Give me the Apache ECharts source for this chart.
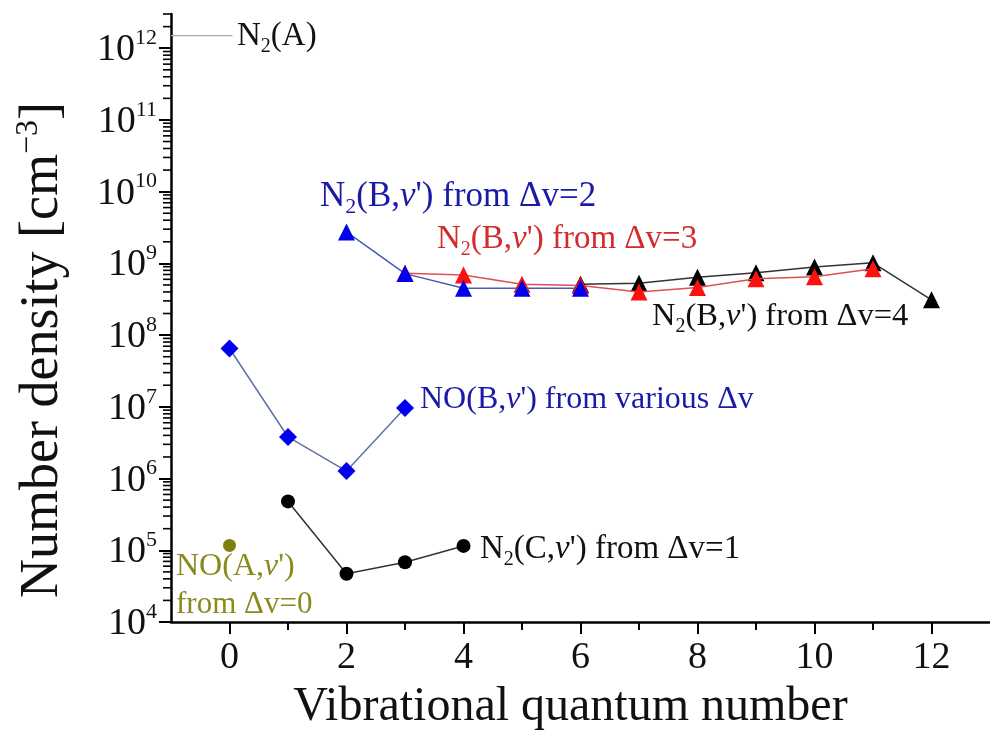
<!DOCTYPE html>
<html>
<head>
<meta charset="utf-8">
<script src="https://cdn.jsdelivr.net/npm/echarts@6/dist/echarts.min.js"></script>
<style>html,body{margin:0;padding:0;background:#fff}#c{width:990px;height:746px}</style>
</head>
<body>
<div id="c"></div>
<script>
// ---- data ----
const vN2B2 = [2, 3, 4, 5, 6];
const nN2B2 = [2.75e9, 7.2e8, 4.5e8, 4.5e8, 4.5e8];
const vN2B3 = [3, 4, 5, 6, 7, 8, 9, 10, 11];
const nN2B3 = [7.3e8, 6.9e8, 5.1e8, 4.9e8, 4.0e8, 4.6e8, 6.1e8, 6.5e8, 8.4e8];
const vN2B4 = [6, 7, 8, 9, 10, 11, 12];
const nN2B4 = [5.1e8, 5.3e8, 6.4e8, 7.4e8, 8.9e8, 1.02e9, 3.1e8];
const vNOB = [0, 1, 2, 3];
const nNOB = [6.5e7, 3.8e6, 1.27e6, 9.6e6];
const vN2C = [1, 2, 3, 4];
const nN2C = [4.8e5, 4.7e4, 6.8e4, 1.15e5];
const vNOA = [0];
const nNOA = [1.17e5];
const vN2A = [-1, 0.05];
const nN2A = [1.5e12, 1.5e12];
const xMajorTicks = [0, 2, 4, 6, 8, 10, 12];
const xMinorTicks = [1, 3, 5, 7, 9, 11];
const yDecades = [1e4, 1e5, 1e6, 1e7, 1e8, 1e9, 1e10, 1e11, 1e12];
const yMinorMantissas = [2, 3, 4, 5, 6, 7, 8, 9];

const X_MIN = -1, X_MAX = 13, Y_MIN = 1e4, Y_MAX = 3e12;
const yMinor = [];
yDecades.forEach(d => yMinorMantissas.forEach(m => { if (m * d <= Y_MAX) yMinor.push(m * d); }));

const pairs = (xs, ys) => xs.map((x, i) => [x, ys[i]]);
const SERIF = '"Liberation Serif", "Times New Roman", serif';

const chart = echarts.init(document.getElementById('c'), null, {renderer: 'canvas'});

const supLabel = function (v) {
  const e = Math.round(Math.log10(v));
  if (Math.abs(v - Math.pow(10, e)) / v > 1e-6) return '';
  return '{b|10}{p|' + e + '}';
};

function richFor(color, size) {
  return {
    n: {fontFamily: SERIF, fontSize: size, color: color, lineHeight: size + 8},
    i: {fontFamily: SERIF, fontSize: size, color: color, fontStyle: 'italic', lineHeight: size + 8},
    s: {fontFamily: SERIF, fontSize: Math.round(size * 0.62), color: color, lineHeight: Math.round(size * 0.62), verticalAlign: 'bottom'}
  };
}
function annot(x, y, text, color, size) {
  return {type: 'text', left: x, top: y, z: 100,
    style: {text: text, rich: richFor(color, size), fill: color, font: size + 'px ' + SERIF}};
}

// minor axis ticks, positioned through the axes' own scales
function minorTickSeries(points, size, offset) {
  return {
    type: 'scatter', silent: true, clip: false, z: 10, symbol: 'rect',
    symbolSize: size, symbolOffset: offset, data: points,
    itemStyle: {color: '#000', opacity: 1}
  };
}

const blueT = '#1a1aa8', redT = '#d42a2a', blackT = '#111', oliveT = '#8a8a1e';

const option = {
  backgroundColor: '#fff',
  animation: false,
  grid: {left: 171, right: 0, top: 14, bottom: 124, containLabel: false},
  xAxis: {
    type: 'value', min: X_MIN, max: X_MAX,
    name: 'Vibrational quantum number', nameLocation: 'middle', nameGap: 61,
    nameTextStyle: {fontFamily: SERIF, fontSize: 48, color: '#111', padding: [0, 20, 0, 0]},
    axisLine: {show: true, onZero: false, lineStyle: {color: '#000', width: 2.5}},
    axisTick: {show: true, customValues: xMajorTicks, length: 12, inside: false, lineStyle: {color: '#000', width: 2}},
    axisLabel: {customValues: xMajorTicks, fontFamily: SERIF, fontSize: 38, color: '#111', margin: 17},
    splitLine: {show: false}
  },
  yAxis: {
    type: 'log', logBase: 10, min: Y_MIN, max: Y_MAX,
    name: '{a|Number density [cm}{s|−3}{a|]}', nameLocation: 'middle', nameGap: 98, nameRotate: 90,
    nameTextStyle: {padding: [0, 64, 0, 0], rich: {
      a: {fontFamily: SERIF, fontSize: 54, color: '#111', lineHeight: 60},
      s: {fontFamily: SERIF, fontSize: 32, color: '#111', lineHeight: 32, verticalAlign: 'top'}
    }},
    axisLine: {show: true, onZero: false, lineStyle: {color: '#000', width: 2.5}},
    axisTick: {show: true, customValues: yDecades, length: 12, lineStyle: {color: '#000', width: 2}},
    axisLabel: {customValues: yDecades, formatter: supLabel, margin: 14, rich: {
      b: {fontFamily: SERIF, fontSize: 38, color: '#111', lineHeight: 42, verticalAlign: 'bottom'},
      p: {fontFamily: SERIF, fontSize: 22, color: '#111', lineHeight: 22, verticalAlign: 'top'}
    }},
    splitLine: {show: false}
  },
  series: [
    {type: 'line', name: 'N2(A)', data: pairs(vN2A, nN2A), showSymbol: false, symbol: 'none',
     lineStyle: {color: '#aaa', width: 1.2}},
    {type: 'line', name: 'N2(B) dv=4', data: pairs(vN2B4, nN2B4), symbol: 'triangle', symbolSize: 17,
     itemStyle: {color: '#000'}, lineStyle: {color: '#333', width: 1.5}, z: 3},
    {type: 'line', name: 'N2(B) dv=3', data: pairs(vN2B3, nN2B3), symbol: 'triangle', symbolSize: 17,
     itemStyle: {color: '#ff1010'}, lineStyle: {color: '#e05050', width: 1.5}, z: 4},
    {type: 'line', name: 'N2(B) dv=2', data: pairs(vN2B2, nN2B2), symbol: 'triangle', symbolSize: 17,
     itemStyle: {color: '#0000ee'}, lineStyle: {color: '#4a5ab0', width: 1.5}, z: 5},
    {type: 'line', name: 'NO(B)', data: pairs(vNOB, nNOB), symbol: 'diamond', symbolSize: 18,
     itemStyle: {color: '#0000ee'}, lineStyle: {color: '#6070a8', width: 1.5}},
    {type: 'line', name: 'N2(C)', data: pairs(vN2C, nN2C), symbol: 'circle', symbolSize: 14,
     itemStyle: {color: '#000'}, lineStyle: {color: '#333', width: 1.5}},
    {type: 'scatter', name: 'NO(A)', data: pairs(vNOA, nNOA), symbol: 'circle', symbolSize: 13,
     itemStyle: {color: '#7f7f10', opacity: 1}},
    minorTickSeries(yMinor.map(v => [X_MIN, v]), [8, 1.6], [-4, 0]),
    minorTickSeries(xMinorTicks.map(v => [v, Y_MIN]), [2, 8], [0, 4])
  ],
  graphic: [
    annot(237, 20, '{n|N}{s|2}{n|(A)}', blackT, 33),
    annot(320, 179, '{n|N}{s|2}{n|(B,}{i|v}{n|\') from Δv=2}', blueT, 35),
    annot(437, 223, '{n|N}{s|2}{n|(B,}{i|v}{n|\') from Δv=3}', redT, 33),
    annot(652, 300, '{n|N}{s|2}{n|(B,}{i|v}{n|\') from Δv=4}', blackT, 32.5),
    annot(420, 384, '{n|NO(B,}{i|v}{n|\') from various Δv}', blueT, 32),
    annot(480, 533, '{n|N}{s|2}{n|(C,}{i|v}{n|\') from Δv=1}', blackT, 33),
    annot(176, 551, '{n|NO(A,}{i|v}{n|\')}', oliveT, 32),
    annot(176, 589, '{n|from Δv=0}', oliveT, 31)
  ]
};
chart.setOption(option);
</script>
</body>
</html>
